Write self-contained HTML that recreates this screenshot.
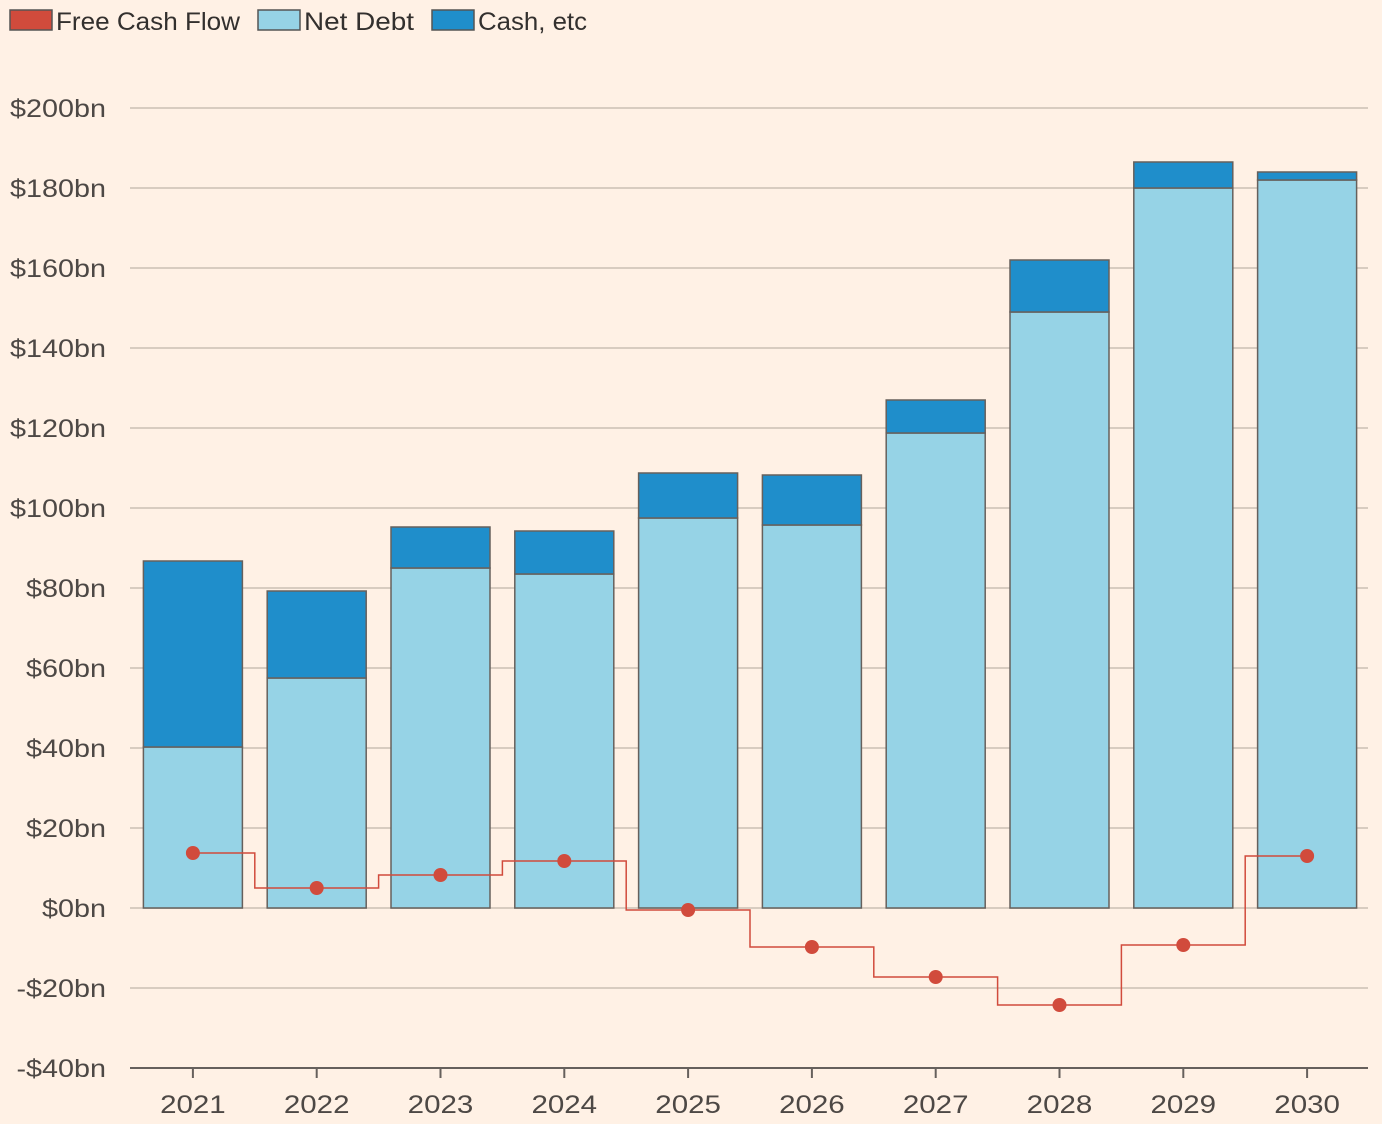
<!DOCTYPE html>
<html><head><meta charset="utf-8"><style>
html,body{margin:0;padding:0;background:#fff1e5;}
svg{display:block;font-family:"Liberation Sans",sans-serif;}
</style></head><body>
<svg id="chart" width="1382" height="1124">
<g id="legend">
 <g><rect x="10" y="10" width="42" height="20" fill="#d14b3c" stroke="#555" stroke-width="1.5"/><text class="lg" data-w="184" x="56" y="30" font-size="25" fill="#33302e">Free Cash Flow</text></g>
 <g><rect x="258" y="10" width="42" height="20" fill="#96d3e6" stroke="#555" stroke-width="1.5"/><text class="lg" data-w="110" x="304" y="30" font-size="25" fill="#33302e">Net Debt</text></g>
 <g><rect x="432" y="10" width="42" height="20" fill="#1f8ecb" stroke="#555" stroke-width="1.5"/><text class="lg" data-w="109" x="478" y="30" font-size="25" fill="#33302e">Cash, etc</text></g>
</g>
<g id="grid"></g><g id="bars"></g><g id="line"></g><g id="xaxis"></g>
</svg>
<script>
const years=["2021","2022","2023","2024","2025","2026","2027","2028","2029","2030"];
const netDebt=[40.25,57.5,85,83.5,97.5,95.75,118.75,149,180,182];
const cash=[46.5,21.75,10.25,10.75,11.25,12.5,8.25,13,6.5,2];
const fcf=[13.75,5,8.25,11.75,-0.5,-9.75,-17.25,-24.25,-9.25,13];
const yTicks=[-40,-20,0,20,40,60,80,100,120,140,160,180,200];
const NS="http://www.w3.org/2000/svg";
const x0=130,x1=1368,band=(x1-x0)/years.length,barW=99;
const y=v=>908-v*4;
const cx=i=>x0+band*(i+0.5)+1;
function mk(t,a,p){const e=document.createElementNS(NS,t);for(const k in a)e.setAttribute(k,a[k]);p.appendChild(e);return e;}
function stretch(t,f){const w=t.getComputedTextLength();t.setAttribute('textLength',w*f);t.setAttribute('lengthAdjust','spacingAndGlyphs');}
const g=document.getElementById('grid');
yTicks.forEach(v=>{
 const l=mk('line',{x1:x0,x2:x1,y1:y(v),y2:y(v),stroke:v===-40?'#66605c':'#d8ccc0','stroke-width':2},g);
 
 
 const t=mk('text',{x:106,y:y(v)+9,'text-anchor':'end','font-size':25,fill:'#4d4845'},g);
 t.textContent=(v<0?'-$':'$')+Math.abs(v)+'bn';
 
 
 stretch(t,1.15);
});
const b=document.getElementById('bars');
years.forEach((yr,i)=>{
 const xl=cx(i)-barW/2;
 const r1=mk('rect',{x:xl,y:y(netDebt[i]),width:barW,height:netDebt[i]*4,fill:'#96d3e6',stroke:'#66605c','stroke-width':1.5},b);
 
 
 const r2=mk('rect',{x:xl,y:y(netDebt[i]+cash[i]),width:barW,height:cash[i]*4,fill:'#1f8ecb',stroke:'#66605c','stroke-width':1.5},b);
 
 
});
const ln=document.getElementById('line');
let d='';
fcf.forEach((v,i)=>{
 const a=i===0?cx(i):cx(i)-band/2, c=i===fcf.length-1?cx(i):cx(i)+band/2;
 d+=(i===0?'M':'L')+a+','+y(v)+' L'+c+','+y(v)+' ';
});
const p=mk('path',{d:d,fill:'none',stroke:'#d14b3c','stroke-width':1.5},ln);


fcf.forEach((v,i)=>{
 const c=mk('circle',{cx:cx(i),cy:y(v),r:7,fill:'#d14b3c'},ln);
 
 
});
const xa=document.getElementById('xaxis');
years.forEach((yr,i)=>{
 const tk=mk('line',{x1:cx(i),x2:cx(i),y1:1068,y2:1078,stroke:'#66605c','stroke-width':2},xa);
 
 
 const t=mk('text',{x:cx(i),y:1113,'text-anchor':'middle','font-size':25,fill:'#4d4845'},xa);
 t.textContent=yr;
 
 
 stretch(t,1.18);
});
document.querySelectorAll('.lg').forEach(t=>{t.setAttribute('textLength',t.getAttribute('data-w'));t.setAttribute('lengthAdjust','spacingAndGlyphs');});
</script>
</body></html>
